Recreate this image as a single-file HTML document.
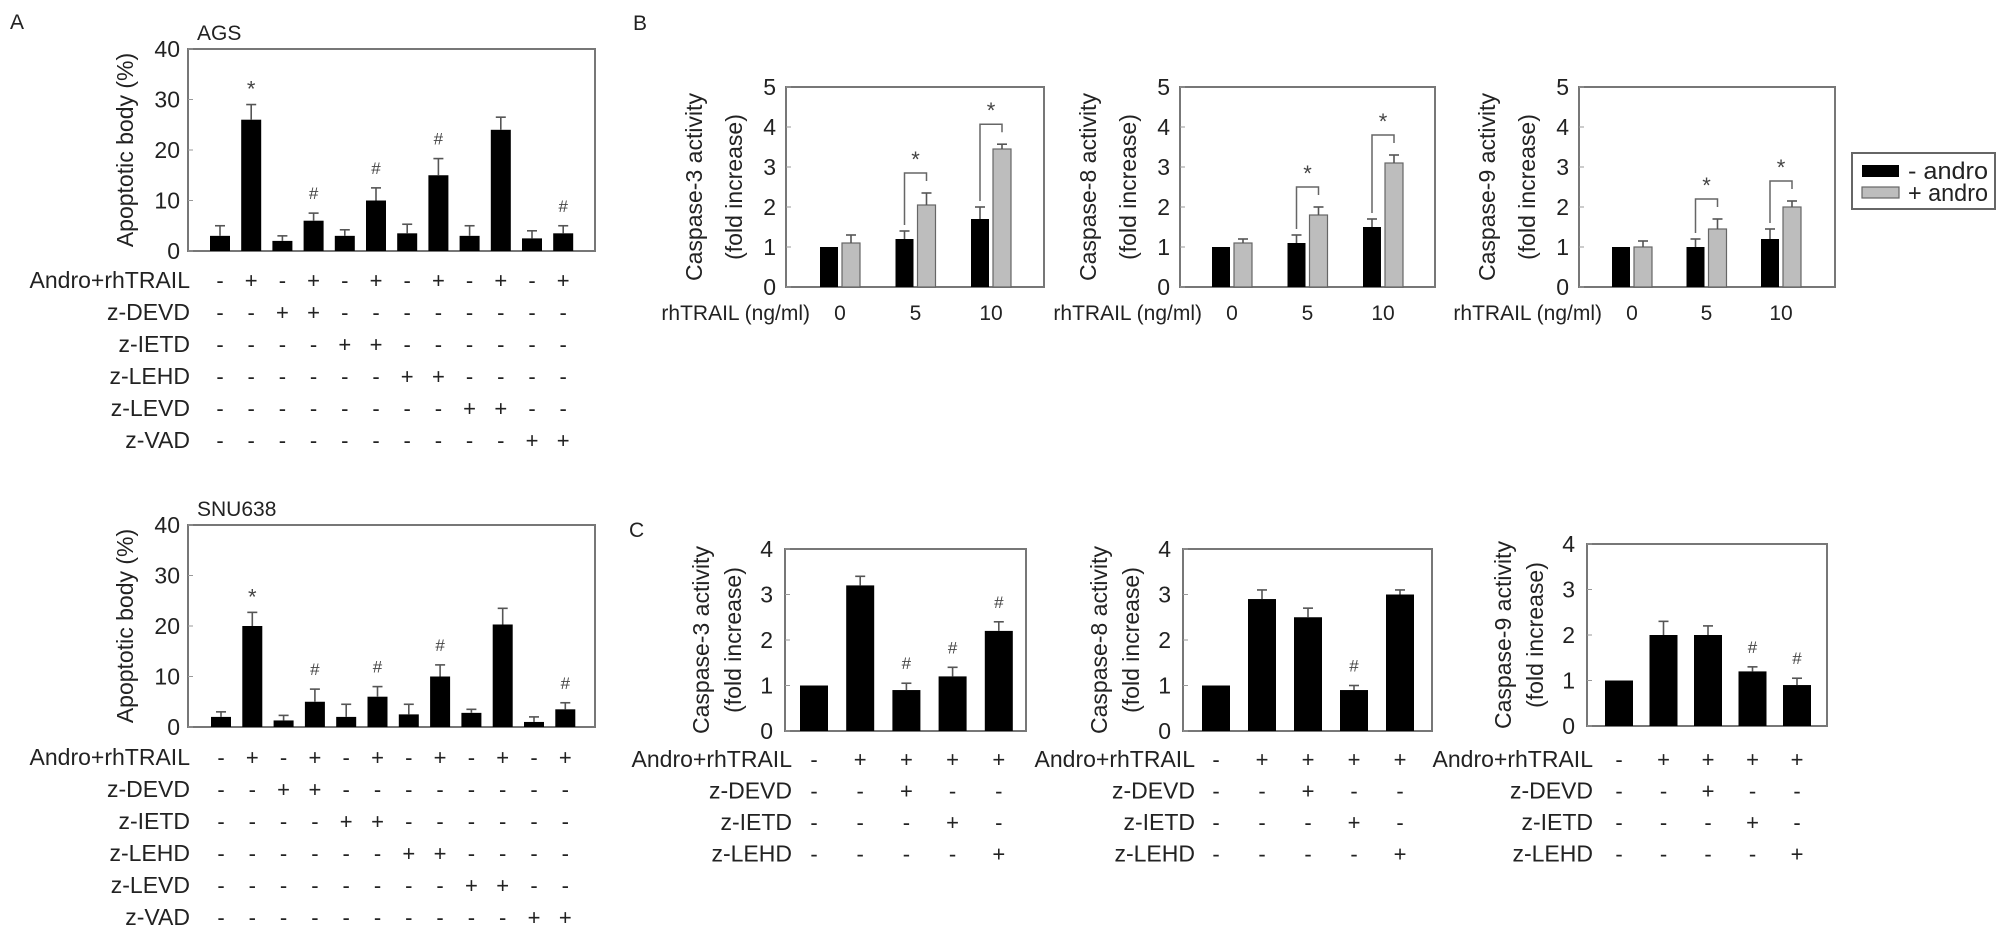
<!DOCTYPE html>
<html><head><meta charset="utf-8"><style>
html,body{margin:0;padding:0;background:#fff;}
svg{display:block;font-family:"Liberation Sans",Arial,sans-serif;}
</style></head><body>
<svg id="fig" width="2008" height="936" viewBox="0 0 2008 936"></svg>
<script>
// ---------- DATA ----------
const aCats = ["1","2","3","4","5","6","7","8","9","10","11","12"];
const agsVals = [3,26,2,6,3,10,3.5,15,3,24,2.5,3.5];
const agsErrs = [2,3,1,1.5,1.2,2.5,1.8,3.3,2,2.5,1.5,1.5];
const agsMarks = ["","*","","#","","#","","#","","","","#"];
const snuVals = [2,20,1.3,5,2,6,2.5,10,2.8,20.3,1,3.5];
const snuErrs = [1,2.7,1,2.5,2.5,2,2,2.3,0.7,3.2,1,1.3];
const snuMarks = ["","*","","#","","#","","#","","","","#"];
const aTicks = [0,10,20,30,40];
const aRowLabels = ["Andro+rhTRAIL","z-DEVD","z-IETD","z-LEHD","z-LEVD","z-VAD"];
const aRowSigns = ["-+-+-+-+-+-+","--++--------","----++------","------++----","--------++--","----------++"];

const bGroups = ["0","5","10"];
const bTicks = [0,1,2,3,4,5];
const b3Minus = [1,1.2,1.7], b3MinusErr = [0,0.2,0.3];
const b3Plus = [1.1,2.05,3.45], b3PlusErr = [0.2,0.3,0.12];
const b8Minus = [1,1.1,1.5], b8MinusErr = [0,0.2,0.2];
const b8Plus = [1.1,1.8,3.1], b8PlusErr = [0.1,0.2,0.2];
const b9Minus = [1,1,1.2], b9MinusErr = [0,0.2,0.25];
const b9Plus = [1,1.45,2.0], b9PlusErr = [0.15,0.25,0.15];
const bSig = [false,true,true];

const cTicks = [0,1,2,3,4];
const c3Vals = [1,3.2,0.9,1.2,2.2], c3Errs = [0,0.2,0.15,0.2,0.2], c3Marks = ["","","#","#","#"];
const c8Vals = [1,2.9,2.5,0.9,3.0], c8Errs = [0,0.2,0.2,0.1,0.1], c8Marks = ["","","","#",""];
const c9Vals = [1,2,2,1.2,0.9], c9Errs = [0,0.3,0.2,0.1,0.15], c9Marks = ["","","","#","#"];
const cRowLabels = ["Andro+rhTRAIL","z-DEVD","z-IETD","z-LEHD"];
const cRowSigns = ["-++++","--+--","---+-","----+"];

// ---------- HELPERS ----------
const NS = "http://www.w3.org/2000/svg";
const svg = document.getElementById("fig");
function mk(tag, attrs, parent){
  const e = document.createElementNS(NS, tag);
  for (const k in attrs) e.setAttribute(k, attrs[k]);
  (parent||svg).appendChild(e);
  return e;
}
function txt(str, x, y, size, anchor, parent, extra){
  const t = mk("text", Object.assign({x:x, y:y, "font-size":size, "text-anchor":anchor||"start", fill:"#222"}, extra||{}), parent);
  t.textContent = str;
  return t;
}
function yScale(y0, y1, max){ return v => y1 - (v/max)*(y1-y0); }

function frame(g, x0, x1, y0, y1, ticks, max, tickSize, tickDx){
  const ys = yScale(y0,y1,max);
  const r = mk("rect",{x:x0,y:y0,width:x1-x0,height:y1-y0,fill:"none",stroke:"#777","stroke-width":2},g);
  
  
  ticks.forEach(t=>{
    const y = ys(t);
    mk("line",{x1:x0,x2:x0+5,y1:y,y2:y,stroke:"#999","stroke-width":1},g);
    const l = txt(String(t), x0-tickDx, y+8, tickSize, "end", g);
    
    
  });
  return ys;
}
function errBar(g, x, yTop, yErr){
  if (yErr >= yTop-0.5) return;
  mk("line",{x1:x,x2:x,y1:yTop,y2:yErr,stroke:"#555","stroke-width":1.6},g);
  mk("line",{x1:x-5,x2:x+5,y1:yErr,y2:yErr,stroke:"#555","stroke-width":1.6},g);
}
function rotLabel(g, lines, cx, cy, size, gap){
  lines.forEach((s,i)=>{
    const x = cx + i*gap;
    const t = txt(s, x, cy, size, "middle", g, {transform:`rotate(-90 ${x} ${cy})`});
    
    
  });
}

// ---------- PANEL A ----------
function panelA(name, title, titleY, vals, errs, marks, y0, y1, first, step, rowY){
  const g = mk("g",{});
  
  
  const x0=188, x1=595;
  const ys = frame(g, x0, x1, y0, y1, aTicks, 40, 23, 8);
  const tt = txt(title, 197, titleY, 21, "start", g);
  
  
  rotLabel(g, ["Apoptotic body (%)"], 133, (y0+y1)/2, 23, 0);
  const xc = i => first + i*step;
  vals.forEach((v,i)=>{
    const b = mk("rect",{x:xc(i)-10,y:ys(v),width:20,height:y1-ys(v),fill:"#000"},g);
    
    
    errBar(g, xc(i), ys(v), ys(v+errs[i]));
    if (marks[i]){
      const m = txt(marks[i], xc(i), ys(v+errs[i]) - (marks[i]==="*"?8:14), marks[i]==="*"?22:17, "middle", g, {fill:"#444"});
      
      
    }
  });
  aRowLabels.forEach((lab,r)=>{
    const y = rowY + r*32;
    const l = txt(lab, 190, y+8, 23, "end", g);
    
    
    aRowSigns[r].split("").forEach((s,i)=>{
      const c = txt(s, xc(i), y+8, 22, "middle", g);
      
      
    });
  });
}
panelA("ags-chart","AGS",40,agsVals,agsErrs,agsMarks,49,251,220,31.2,280);
panelA("snu638-chart","SNU638",516,snuVals,snuErrs,snuMarks,525,727,221,31.3,757);

// ---------- PANEL B ----------
function panelB(name, title, minus, minusErr, plus, plusErr, x0, x1, firstBlack, step){
  const g = mk("g",{});
  
  
  const y0=87, y1=287;
  const ys = frame(g, x0, x1, y0, y1, bTicks, 5, 23, 10);
  rotLabel(g, [title, "(fold increase)"], x0-84, (y0+y1)/2, 23, 40);
  bGroups.forEach((gl,i)=>{
    const xb = firstBlack + i*step, xg = xb + 22;
    const b = mk("rect",{x:xb-9,y:ys(minus[i]),width:18,height:y1-ys(minus[i]),fill:"#000"},g);
    
    
    errBar(g, xb, ys(minus[i]), ys(minus[i]+minusErr[i]));
    const p = mk("rect",{x:xg-9,y:ys(plus[i]),width:18,height:y1-ys(plus[i]),fill:"#bdbdbd",stroke:"#666","stroke-width":1.2},g);
    
    
    errBar(g, xg, ys(plus[i]), ys(plus[i]+plusErr[i]));
    if (bSig[i]){
      const top = plus[i]+plusErr[i]+0.5;
      const lb = minus[i]+minusErr[i]+0.15;
      const br = mk("polyline",{points:`${xb},${ys(lb)} ${xb},${ys(top)} ${xg},${ys(top)} ${xg},${ys(top-0.2)}`,fill:"none",stroke:"#666","stroke-width":1.5},g);
      
      
      const s = txt("*", (xb+xg)/2, ys(top)-6, 22, "middle", g, {fill:"#444"});
      
      
    }
    const t = txt(gl, xb+11, 320, 21, "middle", g);
    
    
  });
  const xl = txt("rhTRAIL (ng/ml)", firstBlack+11-30, 320, 21, "end", g);
  
  
}
panelB("caspase3-dose-chart","Caspase-3 activity",b3Minus,b3MinusErr,b3Plus,b3PlusErr,786,1044,829,75.5);
panelB("caspase8-dose-chart","Caspase-8 activity",b8Minus,b8MinusErr,b8Plus,b8PlusErr,1180,1435,1221,75.5);
panelB("caspase9-dose-chart","Caspase-9 activity",b9Minus,b9MinusErr,b9Plus,b9PlusErr,1579,1835,1621,74.5);

// legend
const lg = mk("g",{});


mk("rect",{x:1852,y:153,width:143,height:56,fill:"#fff",stroke:"#666","stroke-width":2},lg);
const le1 = mk("rect",{x:1862,y:165,width:37,height:12,fill:"#000"},lg);


const le2 = mk("rect",{x:1862,y:187,width:37,height:11,fill:"#bdbdbd",stroke:"#666","stroke-width":1.2},lg);


const lt1 = txt("- andro", 1908, 179, 24, "start", lg, {textLength:80, lengthAdjust:"spacingAndGlyphs"});


const lt2 = txt("+ andro", 1908, 201, 24, "start", lg, {textLength:80, lengthAdjust:"spacingAndGlyphs"});



// ---------- PANEL C ----------
function panelC(name, title, vals, errs, marks, x0, x1, y0, y1, first, step, labelRight){
  const g = mk("g",{});
  
  
  const ys = frame(g, x0, x1, y0, y1, cTicks, 4, 23, 12);
  rotLabel(g, [title, "(fold increase)"], x0-76, (y0+y1)/2, 23, 32);
  const xc = i => first + i*step;
  vals.forEach((v,i)=>{
    const b = mk("rect",{x:xc(i)-14,y:ys(v),width:28,height:y1-ys(v),fill:"#000"},g);
    
    
    errBar(g, xc(i), ys(v), ys(v+errs[i]));
    if (marks[i]){
      const m = txt(marks[i], xc(i), ys(v+errs[i])-14, 17, "middle", g, {fill:"#444"});
      
      
    }
  });
  cRowLabels.forEach((lab,r)=>{
    const y = 759 + r*31.5;
    const l = txt(lab, labelRight, y+8, 23, "end", g);
    
    
    cRowSigns[r].split("").forEach((s,i)=>{
      const c = txt(s, xc(i), y+8, 22, "middle", g);
      
      
    });
  });
}
panelC("caspase3-inhibitor-chart","Caspase-3 activity",c3Vals,c3Errs,c3Marks,785,1026,549,731,814,46.2,792);
panelC("caspase8-inhibitor-chart","Caspase-8 activity",c8Vals,c8Errs,c8Marks,1183,1432,549,731,1216,46,1195);
panelC("caspase9-inhibitor-chart","Caspase-9 activity",c9Vals,c9Errs,c9Marks,1587,1827,544,726,1619,44.5,1593);

// panel letters
[["A",10,29],["B",633,30],["C",629,537]].forEach(p=>{
  const t = txt(p[0], p[1], p[2], 21, "start");
  
  
});
</script>
</body></html>
